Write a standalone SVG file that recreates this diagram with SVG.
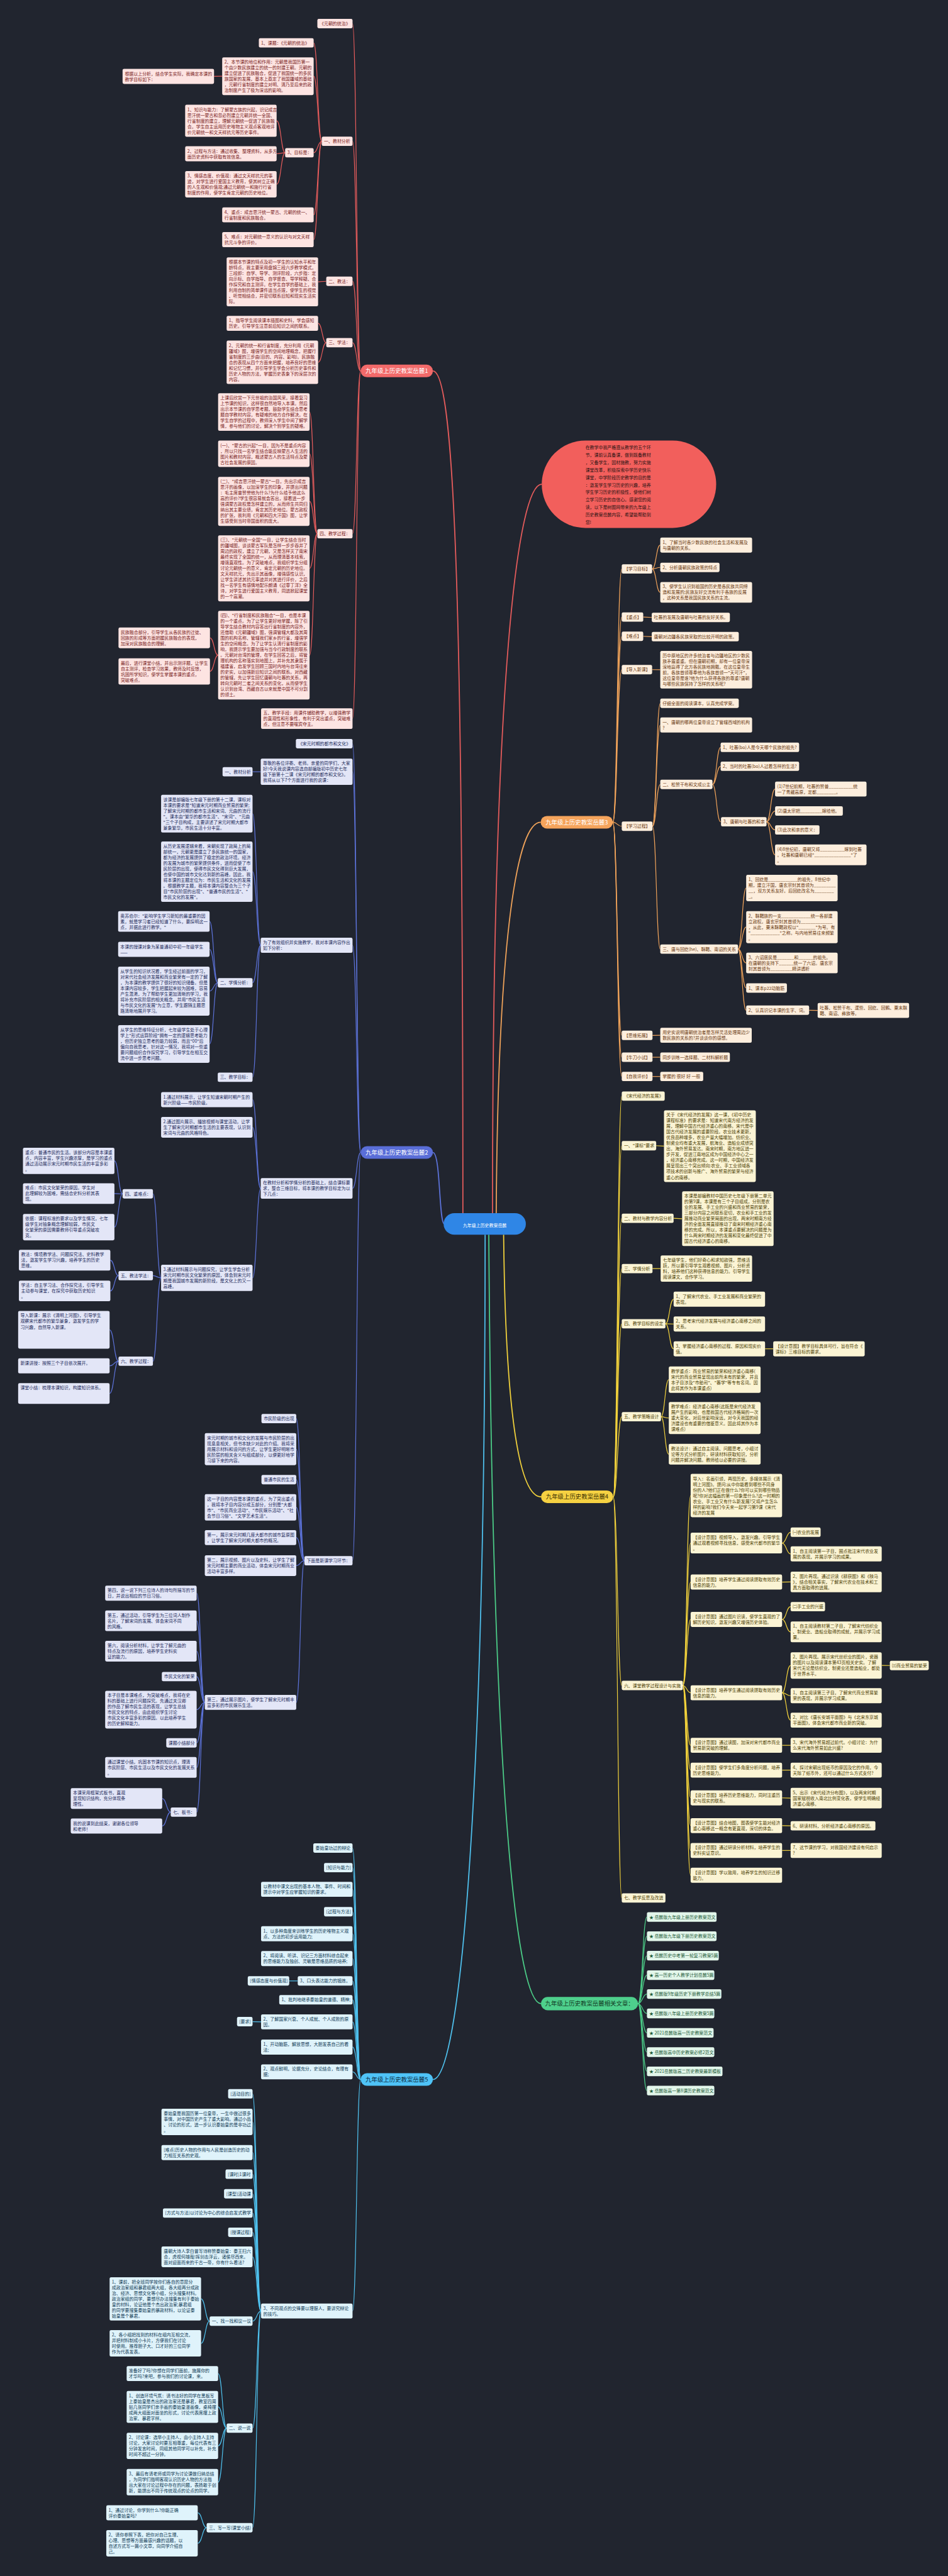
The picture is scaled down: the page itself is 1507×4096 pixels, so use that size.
<svg xmlns="http://www.w3.org/2000/svg" width="1507" height="4096" viewBox="0 0 1507 4096">
<style>
text{font-family:"Noto Sans CJK SC","Noto Sans",sans-serif;font-size:11.8px}
.mt{font-size:16px}
.r1{fill:#fde4e2}.t1{fill:#7a1c1c}
.r2{fill:#e3e6f7}.t2{fill:#232c5c}
.r3{fill:#fdeedd}.t3{fill:#6a3a12}
.r4{fill:#fbf4d4}.t4{fill:#4e4205}
.r5{fill:#dff3fb}.t5{fill:#0f3a55}
.r6{fill:#e2f6ea}.t6{fill:#1b5a37}
path{fill:none;stroke-width:2}
.c1{stroke:#e65c5c}.c2{stroke:#5c72d8}.c3{stroke:#f0a35a}.c4{stroke:#f2d23c}.c5{stroke:#4fc1ee}.c6{stroke:#4cce88}
.m{stroke-width:3}
</style>
<rect width="1507" height="4096" fill="#21252f"/>
<g transform="scale(0.58867)">
<g id="connectors">
<path class="c1 m" d="M1250 3290 C1250 1700 1230 1002 1169 1002"/>
<path class="c2 m" d="M1200 3306 C1185 3306 1190 3113 1169 3113"/>
<path class="c5 m" d="M1310 3335 C1310 4900 1240 5617 1169 5617"/>
<path class="c1 m" d="M1330 3277 C1330 1800 1400 1308 1463 1308"/>
<path class="c3 m" d="M1340 3277 C1345 2500 1400 2221 1460 2221"/>
<path class="c4 m" d="M1360 3335 C1365 3800 1400 4043 1461 4043"/>
<path class="c6 m" d="M1320 3335 C1330 4900 1400 5412 1461 5412"/>
<g class="c1">
<path d="M974 1002 C963 1002 963 63.7 952 63.7"/><path d="M974 1002 C963 1002 963 381.7 952 381.7"/><path d="M974 1002 C963 1002 963 759.7 952 759.7"/><path d="M974 1002 C963 1002 963 925.7 952 925.7"/><path d="M974 1002 C963 1002 963 1441.7 952 1441.7"/><path d="M974 1002 C963 1002 963 1941 952 1941"/>
<path d="M869 381.7 C858 381.7 858 115.7 847 115.7"/><path d="M869 381.7 C858 381.7 858 205.9 847 205.9"/><path d="M869 381.7 C858 381.7 858 412.7 847 412.7"/><path d="M869 381.7 C858 381.7 858 580.3 847 580.3"/><path d="M869 381.7 C858 381.7 858 647.3 847 647.3"/>
<path d="M600 205.9 L578 206.3"/>
<path d="M770 412.7 C759 412.7 759 326.3 747 326.3"/><path d="M770 412.7 C759 412.7 759 415.3 747 415.3"/><path d="M770 412.7 C759 412.7 759 497.6 747 497.6"/>
<path d="M881 759.7 L859 761.2"/>
<path d="M881 925.7 C870 925.7 870 873.3 859 873.3"/><path d="M881 925.7 C870 925.7 870 978.6 859 978.6"/>
<path d="M857 1441.7 C846.5 1441.7 846.5 1112.9 836 1112.9"/><path d="M857 1441.7 C846.5 1441.7 846.5 1225.6 836 1225.6"/><path d="M857 1441.7 C846.5 1441.7 846.5 1354.2 836 1354.2"/><path d="M857 1441.7 C846.5 1441.7 846.5 1535.2 836 1535.2"/><path d="M857 1441.7 C846.5 1441.7 846.5 1769.8 836 1769.8"/>
<path d="M589 1769.8 C578 1769.8 578 1723 567 1723"/><path d="M589 1769.8 C578 1769.8 578 1813.6 567 1813.6"/>
</g>
<g class="c2">
<path d="M974 3113 C963 3113 963 2008.7 952 2008.7"/><path d="M974 3113 C963 3113 963 2084.6 952 2084.6"/><path d="M974 3113 C963 3113 963 2553.3 952 2553.3"/><path d="M974 3113 C963 3113 963 3210 952 3210"/><path d="M974 3113 C963 3113 963 4215.7 952 4215.7"/>
<path d="M704 2084.6 L682 2084.6"/>
<path d="M704 2553.3 C693 2553.3 693 2197.9 682 2197.9"/><path d="M704 2553.3 C693 2553.3 693 2354.5 682 2354.5"/><path d="M704 2553.3 C693 2553.3 693 2654.7 682 2654.7"/><path d="M704 2553.3 C693 2553.3 693 2909.7 682 2909.7"/>
<path d="M588 2654.7 C577 2654.7 577 2489 566 2489"/><path d="M588 2654.7 C577 2654.7 577 2564.3 566 2564.3"/><path d="M588 2654.7 C577 2654.7 577 2677.2 566 2677.2"/><path d="M588 2654.7 C577 2654.7 577 2819.9 566 2819.9"/>
<path d="M704 3210 C693 3210 693 2970.3 682 2970.3"/><path d="M704 3210 C693 3210 693 3045 682 3045"/><path d="M704 3210 C693 3210 693 3451.6 682 3451.6"/>
<path d="M435 3451.6 C424 3451.6 424 3224.7 413 3224.7"/><path d="M435 3451.6 C424 3451.6 424 3445.7 413 3445.7"/><path d="M435 3451.6 C424 3451.6 424 3676.7 413 3676.7"/>
<path d="M331 3224.7 C320 3224.7 320 3135.6 309 3135.6"/><path d="M331 3224.7 C320 3224.7 320 3224 309 3224"/><path d="M331 3224.7 C320 3224.7 320 3314.6 309 3314.6"/>
<path d="M320 3445.7 C309 3445.7 309 3404 298 3404"/><path d="M320 3445.7 C309 3445.7 309 3487 298 3487"/>
<path d="M320 3676.7 C308 3676.7 308 3592 296 3592"/><path d="M320 3676.7 C308 3676.7 308 3689.3 296 3689.3"/><path d="M320 3676.7 C308 3676.7 308 3764 296 3764"/>
<path d="M822 4215.7 C811 4215.7 811 3831.7 800 3831.7"/><path d="M822 4215.7 C811 4215.7 811 3914.3 800 3914.3"/><path d="M822 4215.7 C811 4215.7 811 3996.7 800 3996.7"/><path d="M822 4215.7 C811 4215.7 811 4071.6 800 4071.6"/><path d="M822 4215.7 C811 4215.7 811 4153.3 800 4153.3"/><path d="M822 4215.7 C811 4215.7 811 4229 800 4229"/><path d="M822 4215.7 C811 4215.7 811 4598.3 800 4598.3"/>
<path d="M553 4598.3 C542 4598.3 542 4303.3 531 4303.3"/><path d="M553 4598.3 C542 4598.3 542 4378 531 4378"/><path d="M553 4598.3 C542 4598.3 542 4460 531 4460"/><path d="M553 4598.3 C542 4598.3 542 4528.7 531 4528.7"/><path d="M553 4598.3 C542 4598.3 542 4617.9 531 4617.9"/><path d="M553 4598.3 C542 4598.3 542 4707.7 531 4707.7"/><path d="M553 4598.3 C542 4598.3 542 4774 531 4774"/><path d="M553 4598.3 C542 4598.3 542 4894.7 531 4894.7"/>
<path d="M461 4894.7 C449.5 4894.7 449.5 4858 438 4858"/><path d="M461 4894.7 C449.5 4894.7 449.5 4932.3 438 4932.3"/>
</g>
<g class="c5">
<path d="M974 5617 C963 5617 963 4991.7 952 4991.7"/><path d="M974 5617 C963 5617 963 5044.7 952 5044.7"/><path d="M974 5617 C963 5617 963 5103.3 952 5103.3"/><path d="M974 5617 C963 5617 963 5163.7 952 5163.7"/><path d="M974 5617 C963 5617 963 5223.3 952 5223.3"/><path d="M974 5617 C963 5617 963 5290.3 952 5290.3"/><path d="M974 5617 C963 5617 963 5350.7 952 5350.7"/><path d="M974 5617 C963 5617 963 5401.7 952 5401.7"/><path d="M974 5617 C963 5617 963 5461.3 952 5461.3"/><path d="M974 5617 C963 5617 963 5529.3 952 5529.3"/><path d="M974 5617 C963 5617 963 5596.3 952 5596.3"/><path d="M974 5617 C963 5617 963 6242.3 952 6242.3"/>
<path d="M804 5350.7 L781 5350.7"/><path d="M705 5461.3 L682 5460.7"/>
<path d="M705 6242.3 C693.5 6242.3 693.5 5655.7 682 5655.7"/><path d="M705 6242.3 C693.5 6242.3 693.5 5731.6 682 5731.6"/><path d="M705 6242.3 C693.5 6242.3 693.5 5814.3 682 5814.3"/><path d="M705 6242.3 C693.5 6242.3 693.5 5872.7 682 5872.7"/><path d="M705 6242.3 C693.5 6242.3 693.5 5925.7 682 5925.7"/><path d="M705 6242.3 C693.5 6242.3 693.5 5977.7 682 5977.7"/><path d="M705 6242.3 C693.5 6242.3 693.5 6029.7 682 6029.7"/><path d="M705 6242.3 C693.5 6242.3 693.5 6096 682 6096"/><path d="M705 6242.3 C693.5 6242.3 693.5 6269.7 682 6269.7"/><path d="M705 6242.3 C693.5 6242.3 693.5 6558.7 682 6558.7"/><path d="M705 6242.3 C693.5 6242.3 693.5 6827.7 682 6827.7"/>
<path d="M566 6269.7 C554.5 6269.7 554.5 6209.6 543 6209.6"/><path d="M566 6269.7 C554.5 6269.7 554.5 6329.6 543 6329.6"/>
<path d="M612 6558.7 C600.5 6558.7 600.5 6411.3 589 6411.3"/><path d="M612 6558.7 C600.5 6558.7 600.5 6501.3 589 6501.3"/><path d="M612 6558.7 C600.5 6558.7 600.5 6606.6 589 6606.6"/><path d="M612 6558.7 C600.5 6558.7 600.5 6704.6 589 6704.6"/>
<path d="M558 6827.7 C546 6827.7 546 6787.3 534 6787.3"/><path d="M558 6827.7 C546 6827.7 546 6869.6 534 6869.6"/>
</g>
<g class="c3">
<path d="M1655 2221 C1667 2221 1667 1536.7 1679 1536.7"/><path d="M1655 2221 C1667 2221 1667 1666.7 1679 1666.7"/><path d="M1655 2221 C1667 2221 1667 1718.7 1679 1718.7"/><path d="M1655 2221 C1667 2221 1667 1808.7 1679 1808.7"/><path d="M1655 2221 C1667 2221 1667 2231.7 1679 2231.7"/><path d="M1655 2221 C1667 2221 1667 2796.7 1679 2796.7"/><path d="M1655 2221 C1667 2221 1667 2855.7 1679 2855.7"/><path d="M1655 2221 C1667 2221 1667 2907.7 1679 2907.7"/>
<path d="M1761 1536.7 C1772 1536.7 1772 1472.3 1783 1472.3"/><path d="M1761 1536.7 C1772 1536.7 1772 1532.7 1783 1532.7"/><path d="M1761 1536.7 C1772 1536.7 1772 1600 1783 1600"/>
<path d="M1737 1666.7 L1760 1667.7"/><path d="M1737 1718.7 L1760 1719.7"/><path d="M1761 1808.7 L1783 1808.9"/>
<path d="M1762 2231.7 C1772.5 2231.7 1772.5 1899.7 1783 1899.7"/><path d="M1762 2231.7 C1772.5 2231.7 1772.5 1958.3 1783 1958.3"/><path d="M1762 2231.7 C1772.5 2231.7 1772.5 2118.7 1783 2118.7"/><path d="M1762 2231.7 C1772.5 2231.7 1772.5 2563.7 1783 2563.7"/>
<path d="M1924 2118.7 C1935 2118.7 1935 2018.7 1946 2018.7"/><path d="M1924 2118.7 C1935 2118.7 1935 2069.7 1946 2069.7"/><path d="M1924 2118.7 C1935 2118.7 1935 2219.7 1946 2219.7"/>
<path d="M2070 2219.7 C2081.5 2219.7 2081.5 2131.3 2093 2131.3"/><path d="M2070 2219.7 C2081.5 2219.7 2081.5 2190.7 2093 2190.7"/><path d="M2070 2219.7 C2081.5 2219.7 2081.5 2241.7 2093 2241.7"/><path d="M2070 2219.7 C2081.5 2219.7 2081.5 2309 2093 2309"/>
<path d="M1993 2563.7 C2004 2563.7 2004 2398.6 2015 2398.6"/><path d="M1993 2563.7 C2004 2563.7 2004 2504.3 2015 2504.3"/><path d="M1993 2563.7 C2004 2563.7 2004 2601 2015 2601"/><path d="M1993 2563.7 C2004 2563.7 2004 2668.7 2015 2668.7"/><path d="M1993 2563.7 C2004 2563.7 2004 2728.7 2015 2728.7"/>
<path d="M2185 2728.7 L2208 2729.3"/>
<path d="M1762 2796.7 L1783 2796.3"/><path d="M1762 2855.7 L1783 2855.7"/><path d="M1762 2907.7 L1783 2907.7"/>
</g>
<g class="c4">
<path d="M1656 4043 C1667.5 4043 1667.5 2960.7 1679 2960.7"/><path d="M1656 4043 C1667.5 4043 1667.5 3094.7 1679 3094.7"/><path d="M1656 4043 C1667.5 4043 1667.5 3290.7 1679 3290.7"/><path d="M1656 4043 C1667.5 4043 1667.5 3426.7 1679 3426.7"/><path d="M1656 4043 C1667.5 4043 1667.5 3575.7 1679 3575.7"/><path d="M1656 4043 C1667.5 4043 1667.5 3826.7 1679 3826.7"/><path d="M1656 4043 C1667.5 4043 1667.5 4552.7 1679 4552.7"/><path d="M1656 4043 C1667.5 4043 1667.5 5126.7 1679 5126.7"/>
<path d="M1772 3094.7 L1793 3095.8"/><path d="M1819 3290.7 L1842 3291.9"/><path d="M1762 3426.7 L1784 3426.6"/>
<path d="M1797 3575.7 C1808 3575.7 1808 3509.3 1819 3509.3"/><path d="M1797 3575.7 L1819 3576.3"/><path d="M1797 3575.7 C1808 3575.7 1808 3643.3 1819 3643.3"/><path d="M2066 3643.3 L2088 3643.3"/>
<path d="M1785 3826.7 C1795.5 3826.7 1795.5 3726.6 1806 3726.6"/><path d="M1785 3826.7 C1795.5 3826.7 1795.5 3830.3 1806 3830.3"/><path d="M1785 3826.7 C1795.5 3826.7 1795.5 3928 1806 3928"/>
<path d="M1844 4552.7 C1854.5 4552.7 1854.5 4039.6 1865 4039.6"/><path d="M1844 4552.7 C1854.5 4552.7 1854.5 4168 1865 4168"/><path d="M1844 4552.7 C1854.5 4552.7 1854.5 4273.3 1865 4273.3"/><path d="M1844 4552.7 C1854.5 4552.7 1854.5 4374.3 1865 4374.3"/><path d="M1844 4552.7 C1854.5 4552.7 1854.5 4572.3 1865 4572.3"/><path d="M1844 4552.7 C1854.5 4552.7 1854.5 4714.3 1865 4714.3"/><path d="M1844 4552.7 C1854.5 4552.7 1854.5 4781.3 1865 4781.3"/><path d="M1844 4552.7 C1854.5 4552.7 1854.5 4856.3 1865 4856.3"/><path d="M1844 4552.7 C1854.5 4552.7 1854.5 4931.3 1865 4931.3"/><path d="M1844 4552.7 C1854.5 4552.7 1854.5 4998.3 1865 4998.3"/><path d="M1844 4552.7 C1854.5 4552.7 1854.5 5065.3 1865 5065.3"/>
<path d="M2112 4168 C2123.5 4168 2123.5 4138.7 2135 4138.7"/><path d="M2112 4168 C2123.5 4168 2123.5 4197.3 2135 4197.3"/>
<path d="M2112 4273.3 L2135 4273"/>
<path d="M2112 4374.3 C2123.5 4374.3 2123.5 4339.7 2135 4339.7"/><path d="M2112 4374.3 C2123.5 4374.3 2123.5 4408 2135 4408"/>
<path d="M2112 4572.3 C2123.5 4572.3 2123.5 4498.6 2135 4498.6"/><path d="M2112 4572.3 C2123.5 4572.3 2123.5 4580.3 2135 4580.3"/><path d="M2112 4572.3 C2123.5 4572.3 2123.5 4646.3 2135 4646.3"/>
<path d="M2381 4498.6 L2403 4498.7"/>
<path d="M2112 4714.3 L2135 4714.3"/><path d="M2112 4781.3 L2135 4781.3"/><path d="M2112 4856.3 L2135 4857"/><path d="M2112 4931.3 L2135 4931.7"/><path d="M2112 4998.3 L2135 4998.3"/>
</g>
<g class="c6">
<path d="M1723 5412 C1735 5412 1735 5178 1747 5178"/><path d="M1723 5412 C1735 5412 1735 5230 1747 5230"/><path d="M1723 5412 C1735 5412 1735 5282.7 1747 5282.7"/><path d="M1723 5412 C1735 5412 1735 5335 1747 5335"/><path d="M1723 5412 C1735 5412 1735 5386 1747 5386"/><path d="M1723 5412 C1735 5412 1735 5438.5 1747 5438.5"/><path d="M1723 5412 C1735 5412 1735 5491 1747 5491"/><path d="M1723 5412 C1735 5412 1735 5543 1747 5543"/><path d="M1723 5412 C1735 5412 1735 5595 1747 5595"/><path d="M1723 5412 C1735 5412 1735 5647 1747 5647"/>
</g>
</g>

<g id="center"><rect x="1198" y="3277" width="222" height="58" rx="29" fill="#2f86e6"/><text x="1309" y="3314" text-anchor="middle" font-size="22" fill="#fff">九年级上历史教案岳麓</text></g>

<g id="intro"><rect x="1463" y="1190" width="471" height="236" rx="118" fill="#f25f5c"/><text x="1581" y="1213.5" font-size="15" fill="#2a1414"><tspan x="1581">在教学中我严格遵从教学的五个环</tspan><tspan x="1581" dy="20.1">节，课前认真备课，做到既备教材</tspan><tspan x="1581" dy="20.1">，又备学生，因材施教，努力实施</tspan><tspan x="1581" dy="20.1">课堂改革，积极探索中学历史快乐</tspan><tspan x="1581" dy="20.1">课堂，中学阶段历史教学的目的是</tspan><tspan x="1581" dy="20.1">：激发学生学习历史的兴趣，培养</tspan><tspan x="1581" dy="20.1">学生学习历史的积极性，使他们树</tspan><tspan x="1581" dy="20.1">立学习历史的自信心。感谢您的阅</tspan><tspan x="1581" dy="20.1">读，以下是树图网带来的九年级上</tspan><tspan x="1581" dy="20.1">历史教案岳麓内容，希望能帮助到</tspan><tspan x="1581" dy="20.1">您!</tspan></text></g>

<!-- Branch 1 -->
<g id="b1"><rect x="974" y="985" width="195" height="34" rx="17" fill="#f26a6a"/><text class="mt" x="1071.5" y="1007.5" text-anchor="middle" fill="#fff">九年级上历史教案岳麓1</text></g>
<g id="a1"><rect class="r1" x="857" y="51" width="95" height="25.3" rx="4"/><text class="t1" x="863" y="68">《元朝的统治》</text></g>
<g id="a2"><rect class="r1" x="869" y="369" width="83" height="25.3" rx="4"/><text class="t1" x="875" y="386">一、教材分析</text></g>
<g id="a3"><rect class="r1" x="881" y="747" width="71" height="25.3" rx="4"/><text class="t1" x="887" y="764">二、教法：</text></g>
<g id="a4"><rect class="r1" x="881" y="913" width="71" height="25.3" rx="4"/><text class="t1" x="887" y="930">三、学法：</text></g>
<g id="a5"><rect class="r1" x="857" y="1429" width="95" height="25.3" rx="4"/><text class="t1" x="863" y="1446">四、教学过程：</text></g>
<g id="a6"><rect class="r1" x="705" y="1913" width="247" height="55.9" rx="4"/><text class="t1" x="711" y="1930"><tspan x="711">五、教学手段：用课件辅助教学，以增强教学</tspan><tspan x="711" dy="15.3">的直观性和形象性，有利于突出重点，突破难</tspan><tspan x="711" dy="15.3">点，但注意不要喧宾夺主。</tspan></text></g>
<g id="b1n"><rect class="r1" x="699" y="103" width="148" height="25.3" rx="4"/><text class="t1" x="705" y="120">1、课题：《元朝的统治》</text></g>
<g id="b2n"><rect class="r1" x="600" y="155" width="247" height="101.8" rx="4"/><text class="t1" x="606" y="172"><tspan x="606">2、本节课的地位和作用：元朝是我国历第一</tspan><tspan x="606" dy="15.3">个由少数民族建立的统一的封建王朝。元朝的</tspan><tspan x="606" dy="15.3">建立促进了民族融合，促进了我国统一的多民</tspan><tspan x="606" dy="15.3">族国家的发展，基本上奠定了我国疆域的基础</tspan><tspan x="606" dy="15.3">，元朝行省制度的建立对明、清乃至后来的政</tspan><tspan x="606" dy="15.3">治制度产生了极为深远的影响。</tspan></text></g>
<g id="c1n"><rect class="r1" x="331" y="186" width="247" height="40.6" rx="4"/><text class="t1" x="337" y="203"><tspan x="337">根据以上分析，结合学生实际，我确定本课的</tspan><tspan x="337" dy="15.3">教学目标如下：</tspan></text></g>
<g id="b3n"><rect class="r1" x="770" y="400" width="77" height="25.3" rx="4"/><text class="t1" x="776" y="417">3、目标是：</text></g>
<g id="c2n"><rect class="r1" x="500" y="283" width="247" height="86.5" rx="4"/><text class="t1" x="506" y="300"><tspan x="506">1、知识与能力：了解蒙古族的兴起，识记成吉</tspan><tspan x="506" dy="15.3">思汗统一蒙古和忽必烈建立元朝并统一全国、</tspan><tspan x="506" dy="15.3">行省制度的建立，理解元朝统一促进了民族融</tspan><tspan x="506" dy="15.3">合。学生自主运用历史唯物主义观点客观地评</tspan><tspan x="506" dy="15.3">价元朝统一和文天祥抗元等历史事件。</tspan></text></g>
<g id="c3n"><rect class="r1" x="500" y="395" width="247" height="40.6" rx="4"/><text class="t1" x="506" y="412"><tspan x="506">2、过程与方法：通过收集、整理资料，从多方</tspan><tspan x="506" dy="15.3">面历史资料中获取有效信息。</tspan></text></g>
<g id="c4n"><rect class="r1" x="500" y="462" width="247" height="71.2" rx="4"/><text class="t1" x="506" y="479"><tspan x="506">3、情感态度、价值观：通过文天祥抗元的事</tspan><tspan x="506" dy="15.3">迹，对学生进行爱国主义教育，使其树立正确</tspan><tspan x="506" dy="15.3">的人生观和价值观;通过元朝统一和施行行省</tspan><tspan x="506" dy="15.3">制度的作用，使学生肯定元朝的历史地位。</tspan></text></g>
<g id="b4n"><rect class="r1" x="600" y="560" width="247" height="40.6" rx="4"/><text class="t1" x="606" y="577"><tspan x="606">4、重点：成吉思汗统一蒙古、元朝的统一、</tspan><tspan x="606" dy="15.3">行省制度和民族融合。</tspan></text></g>
<g id="b5n"><rect class="r1" x="600" y="627" width="247" height="40.6" rx="4"/><text class="t1" x="606" y="644"><tspan x="606">5、难点：对元朝统一意义的认识与对文天祥</tspan><tspan x="606" dy="15.3">抗元斗争的评价。</tspan></text></g>
<g id="e1n"><rect class="r1" x="612" y="695" width="247" height="132.4" rx="4"/><text class="t1" x="618" y="712"><tspan x="618">根据本节课的特点及初一学生的认知水平和年</tspan><tspan x="618" dy="15.3">龄特点，我主要采用盘锦三段六步教学模式，</tspan><tspan x="618" dy="15.3">三段即：自学、导学、测评阶段，六步指：定</tspan><tspan x="618" dy="15.3">向示标、自学指导、自学督查、导学释疑、合</tspan><tspan x="618" dy="15.3">作探究和自主测评。在学生自学的基础上，我</tspan><tspan x="618" dy="15.3">利用自制的简单课件适当点拨，使学生的视觉</tspan><tspan x="618" dy="15.3">、听觉相结合，并密切联系旧知和现实生活实</tspan><tspan x="618" dy="15.3">际。</tspan></text></g>
<g id="e2n"><rect class="r1" x="612" y="853" width="247" height="40.6" rx="4"/><text class="t1" x="618" y="870"><tspan x="618">1、指导学生阅读课本插图和史料，学会感知</tspan><tspan x="618" dy="15.3">历史。引导学生注意前后知识之间的联系。</tspan></text></g>
<g id="e3n"><rect class="r1" x="612" y="920" width="247" height="117.1" rx="4"/><text class="t1" x="618" y="937"><tspan x="618">2、元朝的统一和行省制度，充分利用《元朝</tspan><tspan x="618" dy="15.3">疆域》图，增强学生的空间地理概念，把握行</tspan><tspan x="618" dy="15.3">省制度的三步曲(目的、内容、影响)。民族融</tspan><tspan x="618" dy="15.3">合的表现从四个方面来把握，培养良好的思维</tspan><tspan x="618" dy="15.3">和记忆习惯，并引导学生学会分析历史事件和</tspan><tspan x="618" dy="15.3">历史人物的方法，掌握历史表象下的深层次的</tspan><tspan x="618" dy="15.3">内容。</tspan></text></g>
<g id="d1n"><rect class="r1" x="589" y="1062" width="247" height="101.8" rx="4"/><text class="t1" x="595" y="1079"><tspan x="595">上课后欣赏一下元世祖的治国风采，接着复习</tspan><tspan x="595" dy="15.3">上节课的知识，这样很自然地导入本课。然后</tspan><tspan x="595" dy="15.3">出示本节课的自学思考题，鼓励学生结合思考</tspan><tspan x="595" dy="15.3">题自学教材内容，有疑难的地方合作解决。在</tspan><tspan x="595" dy="15.3">学生自学的过程中，教师深入学生中间了解学</tspan><tspan x="595" dy="15.3">情，参与他们的讨论，解决个别学生的疑难。</tspan></text></g>
<g id="d2n"><rect class="r1" x="589" y="1190" width="247" height="71.2" rx="4"/><text class="t1" x="595" y="1207"><tspan x="595">(一)、"蒙古的兴起"一目，因为不是重点内容</tspan><tspan x="595" dy="15.3">，所以只找一名学生结合能反映蒙古人生活的</tspan><tspan x="595" dy="15.3">图片和教材内容，概述蒙古人的生活特点及蒙</tspan><tspan x="595" dy="15.3">古社会发展的原因。</tspan></text></g>
<g id="d3n"><rect class="r1" x="589" y="1288" width="247" height="132.4" rx="4"/><text class="t1" x="595" y="1305"><tspan x="595">(二)、"成吉思汗统一蒙古"一目，先出示成吉</tspan><tspan x="595" dy="15.3">思汗的画像，以加深学生的印象，并提出问题</tspan><tspan x="595" dy="15.3">：毛主席曾赞誉他为什么?为什么给予他这么</tspan><tspan x="595" dy="15.3">高的评价?学生很容易就会答出，接着进一步</tspan><tspan x="595" dy="15.3">强调蒙古政权是怎样建立的，从而师生共同归</tspan><tspan x="595" dy="15.3">纳出其主要业绩，肯定其历史地位。蒙古政权</tspan><tspan x="595" dy="15.3">的扩张，我利用《元朝和四大汗国》图，让学</tspan><tspan x="595" dy="15.3">生感受到当时帝国面积的庞大。</tspan></text></g>
<g id="d4n"><rect class="r1" x="589" y="1446" width="247" height="178.3" rx="4"/><text class="t1" x="595" y="1463"><tspan x="595">(三)、"元朝统一全国"一目，让学生结合当时</tspan><tspan x="595" dy="15.3">的疆域图，谈谈蒙古军队是怎样一步步吞并了</tspan><tspan x="595" dy="15.3">周边的政权，建立了元朝，又是怎样灭了南宋</tspan><tspan x="595" dy="15.3">最终实现了全国的统一，从而理清基本线索，</tspan><tspan x="595" dy="15.3">增强直观性。为了突破难点，我组织学生分组</tspan><tspan x="595" dy="15.3">讨论元朝统一的意义，肯定元朝的历史地位。</tspan><tspan x="595" dy="15.3">文天祥抗元，先出示其画像，增强感性认识，</tspan><tspan x="595" dy="15.3">让学生讲述其抗元事迹并对其进行评价，之后</tspan><tspan x="595" dy="15.3">找一名学生有感情地配乐朗诵《过零丁洋》全</tspan><tspan x="595" dy="15.3">诗，对学生进行爱国主义教育，同进掀起课堂</tspan><tspan x="595" dy="15.3">的一个高潮。</tspan></text></g>
<g id="d5n"><rect class="r1" x="589" y="1650" width="247" height="239.5" rx="4"/><text class="t1" x="595" y="1667"><tspan x="595">(四)、"行省制度和民族融合"一目，也是本课</tspan><tspan x="595" dy="15.3">的一个重点。为了让学生更好地掌握，除了引</tspan><tspan x="595" dy="15.3">导学生结合教材内容答出行省制度的内容外，</tspan><tspan x="595" dy="15.3">还借助《元朝疆域》图，强调管辖大都及其周</tspan><tspan x="595" dy="15.3">围的机构名称、管辖我们家乡的行省，增强学</tspan><tspan x="595" dy="15.3">生的空间概念。为了让学生认清行省制度的影</tspan><tspan x="595" dy="15.3">响，我提示学生要加强与当今行政制度的联系</tspan><tspan x="595" dy="15.3">。元朝对台湾的管理，在学生回答之后，将管</tspan><tspan x="595" dy="15.3">理机构的名称落实到地图上，并补充其隶属于</tspan><tspan x="595" dy="15.3">福建省，启发学生回顾三国时内地与台湾往来</tspan><tspan x="595" dy="15.3">的史实，以加强新旧知识之间的联系。对西藏</tspan><tspan x="595" dy="15.3">的管辖，先让学生回忆唐朝与吐蕃的关系，再</tspan><tspan x="595" dy="15.3">转向元朝时二者之间关系的变化，从而使学生</tspan><tspan x="595" dy="15.3">认识到台湾、西藏自古以来就是中国不可分割</tspan><tspan x="595" dy="15.3">的领土。</tspan></text></g>
<g id="d6n"><rect class="r1" x="320" y="1695" width="247" height="55.9" rx="4"/><text class="t1" x="326" y="1712"><tspan x="326">民族融合部分，引导学生从各民族的迁徙、</tspan><tspan x="326" dy="15.3">回族的形成等方面把握民族融合的表现，</tspan><tspan x="326" dy="15.3">加深对民族融合的理解。</tspan></text></g>
<g id="d7n"><rect class="r1" x="320" y="1778" width="247" height="71.2" rx="4"/><text class="t1" x="326" y="1795"><tspan x="326">最后，进行课堂小结，并出示测评题，让学生</tspan><tspan x="326" dy="15.3">自主测评，检查学习效果，教师及时反馈，</tspan><tspan x="326" dy="15.3">巩固所学知识，使学生掌握本课的重点，</tspan><tspan x="326" dy="15.3">突破难点。</tspan></text></g>

<!-- Branch 2 -->
<g id="b2"><rect x="974" y="3096" width="195" height="34" rx="17" fill="#5a6ed8"/><text class="mt" x="1071.5" y="3118.5" text-anchor="middle" fill="#fff">九年级上历史教案岳麓2</text></g>
<g id="f1"><rect class="r2" x="799" y="1996" width="153" height="25.3" rx="4"/><text class="t2" x="805" y="2013">《宋元时期的都市和文化》</text></g>
<g id="f2"><rect class="r2" x="704" y="2049" width="248" height="71.2" rx="4"/><text class="t2" x="710" y="2066"><tspan x="710">尊敬的各位评委、老师。亲爱的同学们，大家</tspan><tspan x="710" dy="15.3">好!今天我说课内容选自部编版初中历史七年</tspan><tspan x="710" dy="15.3">级下册第十二课《宋元时期的都市和文化》。</tspan><tspan x="710" dy="15.3">我将从以下7个方面进行我的说课：</tspan></text></g>
<g id="g1"><rect class="r2" x="601" y="2072" width="81" height="25.3" rx="4"/><text class="t2" x="607" y="2089">一、教材分析</text></g>
<g id="f3"><rect class="r2" x="704" y="2533" width="248" height="40.6" rx="4"/><text class="t2" x="710" y="2550"><tspan x="710">为了有效组织并实施教学，我对本课内容作出</tspan><tspan x="710" dy="15.3">如下分析：</tspan></text></g>
<g id="g2"><rect class="r2" x="435" y="2147" width="247" height="101.8" rx="4"/><text class="t2" x="441" y="2164"><tspan x="441">该课是部编版七年级下册的第十二课，课标对</tspan><tspan x="441" dy="15.3">本课的要求是"知道宋元时期商业贸易的繁荣;</tspan><tspan x="441" dy="15.3">了解宋元时期的都市生活和宋词、元曲的流行</tspan><tspan x="441" dy="15.3">"。课本由"繁华的都市生活"、"宋词"、"元曲</tspan><tspan x="441" dy="15.3">"三个子目构成，主要讲述了宋元时期大都市</tspan><tspan x="441" dy="15.3">景象繁华，市民生活十分丰富。</tspan></text></g>
<g id="g3"><rect class="r2" x="435" y="2273" width="247" height="163" rx="4"/><text class="t2" x="441" y="2290"><tspan x="441">从历史发展逻辑来看，宋朝实现了政局上的局</tspan><tspan x="441" dy="15.3">部统一，元朝更是建立了多民族统一的国家，</tspan><tspan x="441" dy="15.3">都为经济的发展提供了稳定的政治环境。经济</tspan><tspan x="441" dy="15.3">的发展为城市的繁荣提供条件，进而促使了市</tspan><tspan x="441" dy="15.3">民阶层的出现，使得市民文化得到巨大发展，</tspan><tspan x="441" dy="15.3">也使中国的城市文化达到新的高峰。因此，我</tspan><tspan x="441" dy="15.3">将本课的主题定位为：市民生活和文化的发展</tspan><tspan x="441" dy="15.3">。根据教学主题，我将本课内容整合为三个子</tspan><tspan x="441" dy="15.3">目"市民阶层的出现"、"普通市民的生活"、"</tspan><tspan x="441" dy="15.3">市民文化的发展"。</tspan></text></g>
<g id="g4"><rect class="r2" x="588" y="2642" width="94" height="25.3" rx="4"/><text class="t2" x="594" y="2659">二、学情分析：</text></g>
<g id="g5"><rect class="r2" x="588" y="2897" width="94" height="25.3" rx="4"/><text class="t2" x="594" y="2914">三、教学目标：</text></g>
<g id="h1"><rect class="r2" x="319" y="2461" width="247" height="55.9" rx="4"/><text class="t2" x="325" y="2478"><tspan x="325">奥苏伯尔："影响学生学习新知的最重要的因</tspan><tspan x="325" dy="15.3">素，就是学习者已经知道了什么，要探明这一</tspan><tspan x="325" dy="15.3">点，并据此进行教学。"</tspan></text></g>
<g id="h2"><rect class="r2" x="319" y="2544" width="247" height="40.6" rx="4"/><text class="t2" x="325" y="2561"><tspan x="325">本课的授课对象为某普通初中初一年级学生</tspan><tspan x="325" dy="15.3">——</tspan></text></g>
<g id="h3"><rect class="r2" x="319" y="2611" width="247" height="132.4" rx="4"/><text class="t2" x="325" y="2628"><tspan x="325">从学生的知识状况看，学生经过前面的学习，</tspan><tspan x="325" dy="15.3">对宋代社会经济发展和商业繁荣有一定的了解</tspan><tspan x="325" dy="15.3">，为本课的教学提供了很好的知识储备。但是</tspan><tspan x="325" dy="15.3">本课内容较多，学生把握起来较为困难，容易</tspan><tspan x="325" dy="15.3">产生混淆，为了帮助学生更加清晰的学习，我</tspan><tspan x="325" dy="15.3">将补充市民阶层的相关概念，并用"市民生活</tspan><tspan x="325" dy="15.3">与市民文化的发展"为立意，学生跟随主题思</tspan><tspan x="325" dy="15.3">路清晰地展开学习。</tspan></text></g>
<g id="h4"><rect class="r2" x="319" y="2769" width="247" height="101.8" rx="4"/><text class="t2" x="325" y="2786"><tspan x="325">从学生的思维特征分析，七年级学生处于心理</tspan><tspan x="325" dy="15.3">学上"形式运算阶段"拥有一定的逻辑思考能力</tspan><tspan x="325" dy="15.3">，但历史独立思考的能力较弱，而且"00"后</tspan><tspan x="325" dy="15.3">偏向自我思考。针对这一情况，我将对一些重</tspan><tspan x="325" dy="15.3">要问题组织合作探究学习，引导学生在相互交</tspan><tspan x="325" dy="15.3">流中进一步思考问题。</tspan></text></g>
<g id="f4"><rect class="r2" x="704" y="3182" width="248" height="55.9" rx="4"/><text class="t2" x="710" y="3199"><tspan x="710">在教材分析和学情分析的基础上，结合课标要</tspan><tspan x="710" dy="15.3">求，整合三维目标，将本课的教学目标定为以</tspan><tspan x="710" dy="15.3">下几点：</tspan></text></g>
<g id="g6"><rect class="r2" x="435" y="2950" width="247" height="40.6" rx="4"/><text class="t2" x="441" y="2967"><tspan x="441">1.通过材料展示，让学生知道宋朝时期产生的</tspan><tspan x="441" dy="15.3">新兴阶级——市民阶级。</tspan></text></g>
<g id="g7"><rect class="r2" x="435" y="3017" width="247" height="55.9" rx="4"/><text class="t2" x="441" y="3034"><tspan x="441">2.通过图片展示、播放视频与课堂活动，让学</tspan><tspan x="441" dy="15.3">生了解宋元时期都市生活的主要表现，认识到</tspan><tspan x="441" dy="15.3">宋词与元曲的风格特色。</tspan></text></g>
<g id="g8"><rect class="r2" x="435" y="3416" width="247" height="71.2" rx="4"/><text class="t2" x="441" y="3433"><tspan x="441">3.通过材料展示与问题探究，让学生学会分析</tspan><tspan x="441" dy="15.3">宋元时期市民文化繁荣的原因，体会到宋元时</tspan><tspan x="441" dy="15.3">期是我国城市发展的新阶段，是文化上的又一</tspan><tspan x="441" dy="15.3">高峰。</tspan></text></g>
<g id="h5"><rect class="r2" x="331" y="3212" width="82" height="25.3" rx="4"/><text class="t2" x="337" y="3229">四、重难点：</text></g>
<g id="h6"><rect class="r2" x="320" y="3433" width="93" height="25.3" rx="4"/><text class="t2" x="326" y="3450">五、教法学法：</text></g>
<g id="h7"><rect class="r2" x="320" y="3664" width="93" height="25.3" rx="4"/><text class="t2" x="326" y="3681">六、教学过程：</text></g>
<g id="u1"><rect class="r2" x="62" y="3100" width="247" height="71.2" rx="4"/><text class="t2" x="68" y="3117"><tspan x="68">重点：普通市民的生活。该部分内容是本课重</tspan><tspan x="68" dy="15.3">点，内容丰富，学生兴趣浓厚，是学习的重点</tspan><tspan x="68" dy="15.3">通过活动展示宋元时期市民生活的丰富多彩</tspan><tspan x="68" dy="15.3">。</tspan></text></g>
<g id="u2"><rect class="r2" x="62" y="3196" width="247" height="55.9" rx="4"/><text class="t2" x="68" y="3213"><tspan x="68">难点：市民文化繁荣的原因。学生对</tspan><tspan x="68" dy="15.3">此理解较为困难，需结合史料分析其表</tspan><tspan x="68" dy="15.3">现。</tspan></text></g>
<g id="u3"><rect class="r2" x="62" y="3279" width="247" height="71.2" rx="4"/><text class="t2" x="68" y="3296"><tspan x="68">依据：课程标准的要求以及学生情况，七年</tspan><tspan x="68" dy="15.3">级学生对抽象概念理解较弱，市民文</tspan><tspan x="68" dy="15.3">化繁荣的原因需要教师引导重点突破攻</tspan><tspan x="68" dy="15.3">克。</tspan></text></g>
<g id="u4"><rect class="r2" x="51" y="3376" width="247" height="55.9" rx="4"/><text class="t2" x="57" y="3393"><tspan x="57">教法：情境教学法、问题探究法、史料教学</tspan><tspan x="57" dy="15.3">法，激发学生学习兴趣，培养学生的历史</tspan><tspan x="57" dy="15.3">思维。</tspan></text></g>
<g id="u5"><rect class="r2" x="51" y="3459" width="247" height="55.9" rx="4"/><text class="t2" x="57" y="3476"><tspan x="57">学法：自主学习法、合作探究法，引导学生</tspan><tspan x="57" dy="15.3">主动参与课堂，在探究中获取历史知识</tspan><tspan x="57" dy="15.3">。</tspan></text></g>
<g id="u6"><rect class="r2" x="49" y="3541" width="247" height="101.8" rx="4"/><text class="t2" x="55" y="3558"><tspan x="55">导入新课：展示《清明上河图》，引导学生</tspan><tspan x="55" dy="15.3">观察宋代都市的繁华景象，激发学生的学</tspan><tspan x="55" dy="15.3">习兴趣，自然导入新课。</tspan></text></g>
<g id="u7"><rect class="r2" x="49" y="3669" width="247" height="40.6" rx="4"/><text class="t2" x="55" y="3686"><tspan x="55">新课讲授：按照三个子目依次展开。</tspan></text></g>
<g id="u8"><rect class="r2" x="49" y="3736" width="247" height="55.9" rx="4"/><text class="t2" x="55" y="3753"><tspan x="55">课堂小结：梳理本课知识，构建知识体系。</tspan></text></g>
<g id="f5"><rect class="r2" x="822" y="4203" width="130" height="25.3" rx="4"/><text class="t2" x="828" y="4220">下面是新课学习环节：</text></g>
<g id="i1"><rect class="r2" x="706" y="3819" width="94" height="25.3" rx="4"/><text class="t2" x="712" y="3836">市民阶级的出现</text></g>
<g id="i2"><rect class="r2" x="553" y="3871" width="247" height="86.5" rx="4"/><text class="t2" x="559" y="3888"><tspan x="559">宋元时期的城市和文化的发展与市民阶层的出</tspan><tspan x="559" dy="15.3">现息息相关，但书本缺少对此的介绍。我将采</tspan><tspan x="559" dy="15.3">用展示材料和设问的方式，让学生更好明晰市</tspan><tspan x="559" dy="15.3">民阶层的相关含义与组成部分，以便更好地学</tspan><tspan x="559" dy="15.3">习接下来的内容。</tspan></text></g>
<g id="i3"><rect class="r2" x="706" y="3984" width="94" height="25.3" rx="4"/><text class="t2" x="712" y="4001">普通市民的生活</text></g>
<g id="i4"><rect class="r2" x="553" y="4036" width="247" height="71.2" rx="4"/><text class="t2" x="559" y="4053"><tspan x="559">这一子目的内容是本课的重点，为了突出重点</tspan><tspan x="559" dy="15.3">，我将本子目内容分成五部分，分别是"大都</tspan><tspan x="559" dy="15.3">市"、"市民商业活动"、"市民娱乐活动"、"社</tspan><tspan x="559" dy="15.3">会节日习俗"、"文学艺术生活"。</tspan></text></g>
<g id="i5"><rect class="r2" x="553" y="4133" width="247" height="40.6" rx="4"/><text class="t2" x="559" y="4150"><tspan x="559">第一，展示宋元时期几座大都市的城市复原图</tspan><tspan x="559" dy="15.3">，让学生了解宋元时期大都市的概况。</tspan></text></g>
<g id="i6"><rect class="r2" x="553" y="4201" width="247" height="55.9" rx="4"/><text class="t2" x="559" y="4218"><tspan x="559">第二，展示视频、图片以及史料，让学生了解</tspan><tspan x="559" dy="15.3">宋元时期主要的商业活动，体会宋元时期商业</tspan><tspan x="559" dy="15.3">活动丰富多样。</tspan></text></g>
<g id="i7"><rect class="r2" x="553" y="4578" width="247" height="40.6" rx="4"/><text class="t2" x="559" y="4595"><tspan x="559">第三，通过展示图片，使学生了解宋元时期丰</tspan><tspan x="559" dy="15.3">富多彩的市民娱乐生活。</tspan></text></g>
<g id="j1"><rect class="r2" x="284" y="4283" width="247" height="40.6" rx="4"/><text class="t2" x="290" y="4300"><tspan x="290">第四，说一说下列三位诗人的诗句所描写的节</tspan><tspan x="290" dy="15.3">日，并说出相应的节日习俗。</tspan></text></g>
<g id="j2"><rect class="r2" x="284" y="4350" width="247" height="55.9" rx="4"/><text class="t2" x="290" y="4367"><tspan x="290">第五，通过活动，引导学生为三位词人制作</tspan><tspan x="290" dy="15.3">名片，了解宋词的发展、体会宋词不同</tspan><tspan x="290" dy="15.3">的风格。</tspan></text></g>
<g id="j3"><rect class="r2" x="284" y="4432" width="247" height="55.9" rx="4"/><text class="t2" x="290" y="4449"><tspan x="290">第六，阅读分析材料，让学生了解元曲的</tspan><tspan x="290" dy="15.3">特点及流行的原因，培养学生史料实</tspan><tspan x="290" dy="15.3">证的能力。</tspan></text></g>
<g id="j4"><rect class="r2" x="437" y="4516" width="94" height="25.3" rx="4"/><text class="t2" x="443" y="4533">市民文化的繁荣</text></g>
<g id="j5"><rect class="r2" x="284" y="4567" width="247" height="101.8" rx="4"/><text class="t2" x="290" y="4584"><tspan x="290">本子目是本课难点，为突破难点，我将在史</tspan><tspan x="290" dy="15.3">料的基础上进行问题探究。先通过关汉卿</tspan><tspan x="290" dy="15.3">的作品了解市民生活的表现，让学生总结</tspan><tspan x="290" dy="15.3">市民文化的特点，由此组织学生讨论</tspan><tspan x="290" dy="15.3">市民文化丰富多彩的原因。以此培养学生</tspan><tspan x="290" dy="15.3">的历史解释能力。</tspan></text></g>
<g id="j6"><rect class="r2" x="449" y="4695" width="82" height="25.3" rx="4"/><text class="t2" x="455" y="4712">课题小结部分</text></g>
<g id="j7"><rect class="r2" x="284" y="4746" width="247" height="55.9" rx="4"/><text class="t2" x="290" y="4763"><tspan x="290">通过课堂小结，巩固本节课的知识点，理清</tspan><tspan x="290" dy="15.3">市民阶层、市民生活以及市民文化的发展关系</tspan><tspan x="290" dy="15.3">。</tspan></text></g>
<g id="j8"><rect class="r2" x="461" y="4882" width="70" height="25.3" rx="4"/><text class="t2" x="467" y="4899">七、板书：</text></g>
<g id="j9"><rect class="r2" x="191" y="4830" width="247" height="55.9" rx="4"/><text class="t2" x="197" y="4847"><tspan x="197">本课采用框架式板书，直观</tspan><tspan x="197" dy="15.3">呈现知识结构，充分体现条</tspan><tspan x="197" dy="15.3">理性。</tspan></text></g>
<g id="j10"><rect class="r2" x="191" y="4912" width="247" height="40.6" rx="4"/><text class="t2" x="197" y="4929"><tspan x="197">我的说课到此结束，谢谢各位领导</tspan><tspan x="197" dy="15.3">和老师！</tspan></text></g>

<!-- Branch 5 -->
<g id="b5"><rect x="974" y="5600" width="195" height="34" rx="17" fill="#4fc3f7"/><text class="mt" x="1071.5" y="5622.5" text-anchor="middle" fill="#0c2d44">九年级上历史教案岳麓5</text></g>
<g id="k1"><rect class="r5" x="846" y="4979" width="106" height="25.3" rx="4"/><text class="t5" x="852" y="4996">秦始皇功过的辩论</text></g>
<g id="k2"><rect class="r5" x="875" y="5032" width="77" height="25.3" rx="4"/><text class="t5" x="881" y="5049">[知识与能力]</text></g>
<g id="k3"><rect class="r5" x="705" y="5083" width="247" height="40.6" rx="4"/><text class="t5" x="711" y="5100"><tspan x="711">以教材中课文出现的基本人物、事件、时间和</tspan><tspan x="711" dy="15.3">提示中对学生应掌握知识的要求。</tspan></text></g>
<g id="k4"><rect class="r5" x="875" y="5151" width="77" height="25.3" rx="4"/><text class="t5" x="881" y="5168">[过程与方法]</text></g>
<g id="k5"><rect class="r5" x="705" y="5203" width="247" height="40.6" rx="4"/><text class="t5" x="711" y="5220"><tspan x="711">1、以多种角度来训练学生的历史唯物主义观</tspan><tspan x="711" dy="15.3">点、方法的初步运用能力;</tspan></text></g>
<g id="k6"><rect class="r5" x="705" y="5270" width="247" height="40.6" rx="4"/><text class="t5" x="711" y="5287"><tspan x="711">2、将阅读、听讲、识记三方面材料综合起来</tspan><tspan x="711" dy="15.3">的思维能力及独创、灵敏是思维品质的培养;</tspan></text></g>
<g id="k7"><rect class="r5" x="804" y="5338" width="148" height="25.3" rx="4"/><text class="t5" x="810" y="5355">3、口头表达能力的锻炼。</text></g>
<g id="k7a"><rect class="r5" x="669" y="5338" width="112" height="25.3" rx="4"/><text class="t5" x="675" y="5355">[情感态度与价值观]</text></g>
<g id="k8"><rect class="r5" x="754" y="5389" width="198" height="25.3" rx="4"/><text class="t5" x="760" y="5406">1、批判地继承秦始皇的道德、精神;</text></g>
<g id="k9"><rect class="r5" x="705" y="5441" width="247" height="40.6" rx="4"/><text class="t5" x="711" y="5458"><tspan x="711">2、了解国家兴衰、个人成就、个人成败的原</tspan><tspan x="711" dy="15.3">因。</tspan></text></g>
<g id="k9a"><rect class="r5" x="640" y="5448" width="42" height="25.3" rx="4"/><text class="t5" x="646" y="5465">[要求]</text></g>
<g id="k10"><rect class="r5" x="705" y="5509" width="247" height="40.6" rx="4"/><text class="t5" x="711" y="5526"><tspan x="711">1、开动脑筋，解放思想，大胆发表自己的看</tspan><tspan x="711" dy="15.3">法;</tspan></text></g>
<g id="k11"><rect class="r5" x="705" y="5576" width="247" height="40.6" rx="4"/><text class="t5" x="711" y="5593"><tspan x="711">2、观点鲜明，论据充分，史论结合，有理有</tspan><tspan x="711" dy="15.3">据;</tspan></text></g>
<g id="k12"><rect class="r5" x="705" y="6222" width="247" height="40.6" rx="4"/><text class="t5" x="711" y="6239"><tspan x="711">3、不同观点的交锋要以理服人，要讲究辩论</tspan><tspan x="711" dy="15.3">的技巧。</tspan></text></g>
<g id="l1"><rect class="r5" x="616" y="5643" width="66" height="25.3" rx="4"/><text class="t5" x="622" y="5660">[活动目的]</text></g>
<g id="l2"><rect class="r5" x="436" y="5696" width="246" height="71.2" rx="4"/><text class="t5" x="442" y="5713"><tspan x="442">秦始皇是我国历第一位皇帝，一生中做过很多</tspan><tspan x="442" dy="15.3">事情，对中国历史产生了重大影响。通过小品</tspan><tspan x="442" dy="15.3">、讨论的形式，进一步认识秦始皇的是非功过</tspan><tspan x="442" dy="15.3">。</tspan></text></g>
<g id="l3"><rect class="r5" x="436" y="5794" width="246" height="40.6" rx="4"/><text class="t5" x="442" y="5811"><tspan x="442">[难点]历史人物的作用与人民是创造历史的动</tspan><tspan x="442" dy="15.3">力相互关系的史观。</tspan></text></g>
<g id="l4"><rect class="r5" x="609" y="5860" width="73" height="25.3" rx="4"/><text class="t5" x="615" y="5877">[课时]1课时</text></g>
<g id="l5"><rect class="r5" x="605" y="5913" width="77" height="25.3" rx="4"/><text class="t5" x="611" y="5930">[课型]活动课</text></g>
<g id="l6"><rect class="r5" x="440" y="5965" width="242" height="25.3" rx="4"/><text class="t5" x="446" y="5982">[方式与方法]以讨论为中心的综合启发式教学</text></g>
<g id="l7"><rect class="r5" x="616" y="6017" width="66" height="25.3" rx="4"/><text class="t5" x="622" y="6034">[授课过程]</text></g>
<g id="l8"><rect class="r5" x="436" y="6068" width="246" height="55.9" rx="4"/><text class="t5" x="442" y="6085"><tspan x="442">唐朝大诗人李白曾写诗称赞秦始皇：秦王扫六</tspan><tspan x="442" dy="15.3">合，虎视何雄哉!挥剑击浮云，诸侯尽西来。</tspan><tspan x="442" dy="15.3">面对迎面而来的千古一帝，你有什么看法?</tspan></text></g>
<g id="l9"><rect class="r5" x="566" y="6257" width="116" height="25.3" rx="4"/><text class="t5" x="572" y="6274">一、找一找和议一议</text></g>
<g id="l10"><rect class="r5" x="612" y="6546" width="70" height="25.3" rx="4"/><text class="t5" x="618" y="6563">二、说一说</text></g>
<g id="l11"><rect class="r5" x="558" y="6815" width="124" height="25.3" rx="4"/><text class="t5" x="564" y="6832">三、写一写(课堂小结)</text></g>
<g id="s1"><rect class="r5" x="296" y="6151" width="247" height="117.1" rx="4"/><text class="t5" x="302" y="6168"><tspan x="302">1、课前，把全班同学按你们各自的意愿分</tspan><tspan x="302" dy="15.3">成政治家组和暴君组两大组，各大组再分成政</tspan><tspan x="302" dy="15.3">治、经济、思想文化等小组，分头搜集材料。</tspan><tspan x="302" dy="15.3">政治家组的同学，要想尽办法搜集有利于秦始</tspan><tspan x="302" dy="15.3">皇的材料，论证他是个杰出政治家;暴君组</tspan><tspan x="302" dy="15.3">的同学要搜集秦始皇的暴政材料，以论证秦</tspan><tspan x="302" dy="15.3">始皇是个暴君。</tspan></text></g>
<g id="s2"><rect class="r5" x="296" y="6294" width="247" height="71.2" rx="4"/><text class="t5" x="302" y="6311"><tspan x="302">2、各小组把找到的材料在组内互相交流，</tspan><tspan x="302" dy="15.3">并把材料制成小卡片，方便我们在讨论</tspan><tspan x="302" dy="15.3">时使用。推荐胆子大、口才好的三位同学</tspan><tspan x="302" dy="15.3">作为代表发表。</tspan></text></g>
<g id="s3"><rect class="r5" x="342" y="6391" width="247" height="40.6" rx="4"/><text class="t5" x="348" y="6408"><tspan x="348">准备好了吗?你想在同学们面前，施展你的</tspan><tspan x="348" dy="15.3">才华吗?来吧，参与我们的讨论课，来。</tspan></text></g>
<g id="s4"><rect class="r5" x="342" y="6458" width="247" height="86.5" rx="4"/><text class="t5" x="348" y="6475"><tspan x="348">1、创造环境气氛：请书法好的同学在黑板写</tspan><tspan x="348" dy="15.3">上秦始皇是杰出的政治家还是暴君，教室四周</tspan><tspan x="348" dy="15.3">贴几张同学们亲手画的秦始皇漫画像，桌椅摆</tspan><tspan x="348" dy="15.3">成两大组面对面坐的形式，讨论代表席摆上政</tspan><tspan x="348" dy="15.3">治家、暴君字样。</tspan></text></g>
<g id="s5"><rect class="r5" x="342" y="6571" width="247" height="71.2" rx="4"/><text class="t5" x="348" y="6588"><tspan x="348">2、讨论课：选举小主持人，由小主持人主持</tspan><tspan x="348" dy="15.3">讨论，大家讨论时要互相尊重，每位代表有三</tspan><tspan x="348" dy="15.3">分钟发言时间，同组其他同学可以补充，补充</tspan><tspan x="348" dy="15.3">时间不超过一分钟。</tspan></text></g>
<g id="s6"><rect class="r5" x="342" y="6669" width="247" height="71.2" rx="4"/><text class="t5" x="348" y="6686"><tspan x="348">3、最后有请老师或同学为讨论课做归纳总结</tspan><tspan x="348" dy="15.3">，为同学们指明客观认识历史人物的方法指</tspan><tspan x="348" dy="15.3">出大家在讨论过程中存在的问题，表扬敢于创</tspan><tspan x="348" dy="15.3">新，能提出不同于传统观点的论点的同学。</tspan></text></g>
<g id="s7"><rect class="r5" x="287" y="6767" width="247" height="40.6" rx="4"/><text class="t5" x="293" y="6784"><tspan x="293">1、通过讨论，你学到什么?你能正确</tspan><tspan x="293" dy="15.3">评价秦始皇吗?</tspan></text></g>
<g id="s8"><rect class="r5" x="287" y="6834" width="247" height="71.2" rx="4"/><text class="t5" x="293" y="6851"><tspan x="293">2、请你参照下表，把你对自己生理、</tspan><tspan x="293" dy="15.3">心理、思想等方面最感兴趣的话题，以</tspan><tspan x="293" dy="15.3">自述方式写一篇小文章，向同学介绍自</tspan><tspan x="293" dy="15.3">己。</tspan></text></g>

<!-- Branch 3 -->
<g id="b3"><rect x="1460" y="2204" width="195" height="34" rx="17" fill="#f5a45c"/><text class="mt" x="1557.5" y="2226.5" text-anchor="middle" fill="#fff">九年级上历史教案岳麓3</text></g>
<g id="m1"><rect class="r3" x="1679" y="1524" width="82" height="25.3" rx="4"/><text class="t3" x="1685" y="1541">【学习目标】</text></g>
<g id="m1a"><rect class="r3" x="1783" y="1452" width="248" height="40.6" rx="4"/><text class="t3" x="1789" y="1469"><tspan x="1789">1、了解当时各少数民族的社会生活和发展及</tspan><tspan x="1789" dy="15.3">与唐朝的关系。</tspan></text></g>
<g id="m1b"><rect class="r3" x="1783" y="1520" width="160" height="25.3" rx="4"/><text class="t3" x="1789" y="1537">2、分析唐朝民族政策的特点</text></g>
<g id="m1c"><rect class="r3" x="1783" y="1572" width="248" height="55.9" rx="4"/><text class="t3" x="1789" y="1589"><tspan x="1789">3、使学生认识到祖国的历史是各民族共同缔</tspan><tspan x="1789" dy="15.3">造和发展的;民族友好交流有利于各族的反展</tspan><tspan x="1789" dy="15.3">，这种关系是我国民族关系的主流。</tspan></text></g>
<g id="m2"><rect class="r3" x="1679" y="1654" width="58" height="25.3" rx="4"/><text class="t3" x="1685" y="1671">【重点】</text></g>
<g id="m2a"><rect class="r3" x="1760" y="1655" width="211" height="25.3" rx="4"/><text class="t3" x="1766" y="1672">吐蕃的发展及唐朝与吐蕃的友好关系。</text></g>
<g id="m3"><rect class="r3" x="1679" y="1706" width="58" height="25.3" rx="4"/><text class="t3" x="1685" y="1723">【难点】</text></g>
<g id="m3a"><rect class="r3" x="1760" y="1707" width="235" height="25.3" rx="4"/><text class="t3" x="1766" y="1724">唐朝对边疆各民族采取的比较开明的政策。</text></g>
<g id="m4"><rect class="r3" x="1679" y="1796" width="82" height="25.3" rx="4"/><text class="t3" x="1685" y="1813">【导入新课】</text></g>
<g id="m4a"><rect class="r3" x="1783" y="1758" width="248" height="101.8" rx="4"/><text class="t3" x="1789" y="1775"><tspan x="1789">历中原地区的许多统治者与边疆地区的少数民</tspan><tspan x="1789" dy="15.3">族矛盾重重。但在唐朝初期，却有一位皇帝深</tspan><tspan x="1789" dy="15.3">深地赢得了北方各民族地拥戴。在这位皇帝生</tspan><tspan x="1789" dy="15.3">前，各族首领尊奉他为各族首领一"天可汗"，</tspan><tspan x="1789" dy="15.3">这位皇帝是谁?他为什么获得各族的尊重?唐朝</tspan><tspan x="1789" dy="15.3">与哪些民族保持了怎样的关系呢?</tspan></text></g>
<g id="m5"><rect class="r3" x="1679" y="2219" width="83" height="25.3" rx="4"/><text class="t3" x="1685" y="2236">【学习过程】</text></g>
<g id="m5a"><rect class="r3" x="1783" y="1887" width="212" height="25.3" rx="4"/><text class="t3" x="1789" y="1904">仔细全面的阅读课本，认真完成学案。</text></g>
<g id="m5b"><rect class="r3" x="1783" y="1938" width="248" height="40.6" rx="4"/><text class="t3" x="1789" y="1955"><tspan x="1789">一、唐朝的哪两位皇帝设立了管辖西域的机构</tspan><tspan x="1789" dy="15.3">?</tspan></text></g>
<g id="m5c"><rect class="r3" x="1783" y="2106" width="141" height="25.3" rx="4"/><text class="t3" x="1789" y="2123">二、松赞干布和文成公主</text></g>
<g id="m5c1"><rect class="r3" x="1946" y="2006" width="212" height="25.3" rx="4"/><text class="t3" x="1952" y="2023">1、吐蕃(bo)人是今天哪个民族的祖先?</text></g>
<g id="m5c2"><rect class="r3" x="1946" y="2057" width="212" height="25.3" rx="4"/><text class="t3" x="1952" y="2074">2、当时的吐蕃(bo)人过着怎样的生活?</text></g>
<g id="m5c3"><rect class="r3" x="1947" y="2207" width="123" height="25.3" rx="4"/><text class="t3" x="1953" y="2224">3、唐朝与吐蕃的和亲</text></g>
<g id="m5c3a"><rect class="r3" x="2093" y="2111" width="247" height="40.6" rx="4"/><text class="t3" x="2099" y="2128"><tspan x="2099">(1)7世纪前期，吐蕃的赞普__________统</tspan><tspan x="2099" dy="15.3">一了青藏高原，定都________。</tspan></text></g>
<g id="m5c3b"><rect class="r3" x="2093" y="2178" width="183" height="25.3" rx="4"/><text class="t3" x="2099" y="2195">(2)唐太宗把_________嫁给他。</text></g>
<g id="m5c3c"><rect class="r3" x="2093" y="2229" width="120" height="25.3" rx="4"/><text class="t3" x="2099" y="2246">(3)此次和亲的意义：</text></g>
<g id="m5c3d"><rect class="r3" x="2093" y="2281" width="247" height="55.9" rx="4"/><text class="t3" x="2099" y="2298"><tspan x="2099">(4)8世纪初，唐朝又将__________嫁到吐蕃</tspan><tspan x="2099" dy="15.3">。吐蕃和唐朝已经"_______________"了</tspan><tspan x="2099" dy="15.3">。</tspan></text></g>
<g id="m5d"><rect class="r3" x="1783" y="2551" width="210" height="25.3" rx="4"/><text class="t3" x="1789" y="2568">三、唐与回纥(he)、靺鞨、南诏的关系</text></g>
<g id="m5d1"><rect class="r3" x="2015" y="2363" width="247" height="71.2" rx="4"/><text class="t3" x="2021" y="2380"><tspan x="2021">1、回纥是____________的祖先，8世纪中</tspan><tspan x="2021" dy="15.3">期，建立汗国，唐玄宗封其首领为_________</tspan><tspan x="2021" dy="15.3">__，双方关系友好。后回纥改名为________</tspan><tspan x="2021" dy="15.3">_。</tspan></text></g>
<g id="m5d2"><rect class="r3" x="2015" y="2461" width="247" height="86.5" rx="4"/><text class="t3" x="2021" y="2478"><tspan x="2021">2、靺鞨族的一支____________统一各部建</tspan><tspan x="2021" dy="15.3">立政权。唐玄宗封其首领为_____________</tspan><tspan x="2021" dy="15.3">，从此，粟末靺鞨政权以"_______"为号。有</tspan><tspan x="2021" dy="15.3">"____________"之称。与内地贸易往来频繁</tspan><tspan x="2021" dy="15.3">。</tspan></text></g>
<g id="m5d3"><rect class="r3" x="2015" y="2573" width="247" height="55.9" rx="4"/><text class="t3" x="2021" y="2590"><tspan x="2021">3、六诏居民是_______和______的祖先。</tspan><tspan x="2021" dy="15.3">在唐朝的支持下______统一了六诏。唐玄宗</tspan><tspan x="2021" dy="15.3">封其首领为_________精讲透析</tspan></text></g>
<g id="m5d4"><rect class="r3" x="2015" y="2656" width="110" height="25.3" rx="4"/><text class="t3" x="2021" y="2673">1、课本p22动脑筋</text></g>
<g id="m5d5"><rect class="r3" x="2015" y="2716" width="170" height="25.3" rx="4"/><text class="t3" x="2021" y="2733">2、认真识记本课的生字、词。</text></g>
<g id="m5d5a"><rect class="r3" x="2208" y="2709" width="247" height="40.6" rx="4"/><text class="t3" x="2214" y="2726"><tspan x="2214">吐蕃、松赞干布、逻些、回纥、回鹘、粟末靺</tspan><tspan x="2214" dy="15.3">鞨、南诏、彝族等。</tspan></text></g>
<g id="m6"><rect class="r3" x="1679" y="2784" width="83" height="25.3" rx="4"/><text class="t3" x="1685" y="2801">【思维拓展】</text></g>
<g id="m6a"><rect class="r3" x="1783" y="2776" width="247" height="40.6" rx="4"/><text class="t3" x="1789" y="2793"><tspan x="1789">用史实说明唐朝统治者是怎样灵活处理周边少</tspan><tspan x="1789" dy="15.3">数民族的关系的?并谈谈你的感想。</tspan></text></g>
<g id="m7"><rect class="r3" x="1679" y="2843" width="83" height="25.3" rx="4"/><text class="t3" x="1685" y="2860">【牛刀小试】</text></g>
<g id="m7a"><rect class="r3" x="1783" y="2843" width="188" height="25.3" rx="4"/><text class="t3" x="1789" y="2860">同步训练一选择题、二材料解析题</text></g>
<g id="m8"><rect class="r3" x="1679" y="2895" width="83" height="25.3" rx="4"/><text class="t3" x="1685" y="2912">【自我评价】</text></g>
<g id="m8a"><rect class="r3" x="1783" y="2895" width="116" height="25.3" rx="4"/><text class="t3" x="1789" y="2912">掌握的 很好 好 一般</text></g>

<!-- Branch 4 -->
<g id="b4"><rect x="1461" y="4026" width="195" height="34" rx="17" fill="#f5d142"/><text class="mt" x="1558.5" y="4048.5" text-anchor="middle" fill="#3a3000">九年级上历史教案岳麓4</text></g>
<g id="p1"><rect class="r4" x="1679" y="2948" width="116" height="25.3" rx="4"/><text class="t4" x="1685" y="2965">《宋代经济的发展》</text></g>
<g id="p2"><rect class="r4" x="1679" y="3082" width="93" height="25.3" rx="4"/><text class="t4" x="1685" y="3099">一、"课标"要求</text></g>
<g id="p2a"><rect class="r4" x="1793" y="2999" width="248" height="193.6" rx="4"/><text class="t4" x="1799" y="3016"><tspan x="1799">关于《宋代经济的发展》这一课，《初中历史</tspan><tspan x="1799" dy="15.3">课程标准》的要求是：知道宋代南方经济的发</tspan><tspan x="1799" dy="15.3">展，理解中国古代经济重心的南移。宋代是中</tspan><tspan x="1799" dy="15.3">国古代经济发展的重要阶段。农业技术更新，</tspan><tspan x="1799" dy="15.3">优良品种增多，农业产量大幅增加。纺织业、</tspan><tspan x="1799" dy="15.3">制瓷业均有重大发展，航海业、造船业成绩突</tspan><tspan x="1799" dy="15.3">出，海外贸易发达。南宋时期，南方地区进一</tspan><tspan x="1799" dy="15.3">步开发，促进江南地区成为中国经济中心之一</tspan><tspan x="1799" dy="15.3">，经济重心南移完成。这一时期，中国经济发</tspan><tspan x="1799" dy="15.3">展呈现出三个突出倾向:农业、手工业领域各</tspan><tspan x="1799" dy="15.3">项技术的创新与推广、海外贸易的繁荣与经济</tspan><tspan x="1799" dy="15.3">重心的南移。</tspan></text></g>
<g id="p3"><rect class="r4" x="1679" y="3278" width="140" height="25.3" rx="4"/><text class="t4" x="1685" y="3295">二、教材与教学内容分析</text></g>
<g id="p3a"><rect class="r4" x="1842" y="3218" width="247" height="147.7" rx="4"/><text class="t4" x="1848" y="3235"><tspan x="1848">本课是部编教材中国历史七年级下册第二单元</tspan><tspan x="1848" dy="15.3">的第9课。本课是有三个子目组成，分别是农</tspan><tspan x="1848" dy="15.3">业的发展、手工业的兴盛和商业贸易的繁荣，</tspan><tspan x="1848" dy="15.3">三部分内容之间联系密切，农业和手工业的发</tspan><tspan x="1848" dy="15.3">展推动商业繁荣局面的出现，两宋时期南方经</tspan><tspan x="1848" dy="15.3">济的全面发展直接推动了南宋时期经济重心南</tspan><tspan x="1848" dy="15.3">移的完成。所以，本课重点要解决的问题是为</tspan><tspan x="1848" dy="15.3">什么两宋时期经济的发展和变化最终促进了中</tspan><tspan x="1848" dy="15.3">国古代经济重心的南移。</tspan></text></g>
<g id="p4"><rect class="r4" x="1679" y="3414" width="83" height="25.3" rx="4"/><text class="t4" x="1685" y="3431">三、学情分析</text></g>
<g id="p4a"><rect class="r4" x="1784" y="3391" width="247" height="71.2" rx="4"/><text class="t4" x="1790" y="3408"><tspan x="1790">七年级学生，他们好奇心和求知欲强，思维活</tspan><tspan x="1790" dy="15.3">跃，所以要引导学生观看视频、图片，分析资</tspan><tspan x="1790" dy="15.3">料，培养他们这种获得信息的能力。引导学生</tspan><tspan x="1790" dy="15.3">阅读课文，合作学习。</tspan></text></g>
<g id="p5"><rect class="r4" x="1679" y="3563" width="118" height="25.3" rx="4"/><text class="t4" x="1685" y="3580">四、教学目标的设定</text></g>
<g id="p5a"><rect class="r4" x="1819" y="3489" width="247" height="40.6" rx="4"/><text class="t4" x="1825" y="3506"><tspan x="1825">1、了解宋代农业、手工业发展和商业繁荣的</tspan><tspan x="1825" dy="15.3">表现。</tspan></text></g>
<g id="p5b"><rect class="r4" x="1819" y="3556" width="247" height="40.6" rx="4"/><text class="t4" x="1825" y="3573"><tspan x="1825">2、思考宋代经济发展与经济重心南移之间的</tspan><tspan x="1825" dy="15.3">关系。</tspan></text></g>
<g id="p5c"><rect class="r4" x="1819" y="3623" width="247" height="40.6" rx="4"/><text class="t4" x="1825" y="3640"><tspan x="1825">3、掌握经济重心南移的过程、原因和现实价</tspan><tspan x="1825" dy="15.3">值。</tspan></text></g>
<g id="p5d"><rect class="r4" x="2088" y="3623" width="247" height="40.6" rx="4"/><text class="t4" x="2094" y="3640"><tspan x="2094">【设计意图】教学目标具体可行，旨在符合《</tspan><tspan x="2094" dy="15.3">课标》三维目标的要求。</tspan></text></g>
<g id="p6"><rect class="r4" x="1679" y="3814" width="106" height="25.3" rx="4"/><text class="t4" x="1685" y="3831">五、教学策略设计</text></g>
<g id="p6a"><rect class="r4" x="1806" y="3691" width="248" height="71.2" rx="4"/><text class="t4" x="1812" y="3708"><tspan x="1812">教学重点：商业贸易的繁荣和经济重心南移(</tspan><tspan x="1812" dy="15.3">宋代的商业贸易呈现出前所未有的繁荣，并且</tspan><tspan x="1812" dy="15.3">本子目涉及"市舶司"、"蕃学"等专有名词。因</tspan><tspan x="1812" dy="15.3">此将其作为本课重点)</tspan></text></g>
<g id="p6b"><rect class="r4" x="1806" y="3787" width="248" height="86.5" rx="4"/><text class="t4" x="1812" y="3804"><tspan x="1812">教学难点：经济重心南移(这既是宋代经济发</tspan><tspan x="1812" dy="15.3">展产生的影响，也是我国古代经济格局的一次</tspan><tspan x="1812" dy="15.3">重大变化，对后世影响深远，对今天我国的经</tspan><tspan x="1812" dy="15.3">济建设也有重要的借鉴意义。因此将其作为本</tspan><tspan x="1812" dy="15.3">课难点)</tspan></text></g>
<g id="p6c"><rect class="r4" x="1806" y="3900" width="248" height="55.9" rx="4"/><text class="t4" x="1812" y="3917"><tspan x="1812">教法设计：通过自主阅读、问题思考，小组讨</tspan><tspan x="1812" dy="15.3">论等方式分析图片，研读材料获取知识，分析</tspan><tspan x="1812" dy="15.3">问题并解决问题。教师给以必要的讲授。</tspan></text></g>
<g id="p7"><rect class="r4" x="1679" y="4540" width="165" height="25.3" rx="4"/><text class="t4" x="1685" y="4557">六、课堂教学过程设计与实施</text></g>
<g id="q1"><rect class="r4" x="1865" y="3981" width="247" height="117.1" rx="4"/><text class="t4" x="1871" y="3998"><tspan x="1871">导入：名画引领，再现历史。多媒体展示《清</tspan><tspan x="1871" dy="15.3">明上河图》。提问:从中你能看到哪些不同身</tspan><tspan x="1871" dy="15.3">份的人?他们正在做什么?你可以买到哪些物品</tspan><tspan x="1871" dy="15.3">呢?你对这幅画的第一印象是什么?这一时期的</tspan><tspan x="1871" dy="15.3">农业、手工业又有什么新发展?又将产生怎么</tspan><tspan x="1871" dy="15.3">样的影响?我们今天来一起学习第9课《宋代</tspan><tspan x="1871" dy="15.3">经济的发展</tspan></text></g>
<g id="q2"><rect class="r4" x="1865" y="4140" width="247" height="55.9" rx="4"/><text class="t4" x="1871" y="4157"><tspan x="1871">【设计意图】视频导入，激发兴趣。引导学生</tspan><tspan x="1871" dy="15.3">通过观看视频寻找信息，感受宋代都市的繁华</tspan><tspan x="1871" dy="15.3">。</tspan></text></g>
<g id="q2a"><rect class="r4" x="2135" y="4126" width="81" height="25.3" rx="4"/><text class="t4" x="2141" y="4143">㈠农业的发展</text></g>
<g id="q2b"><rect class="r4" x="2135" y="4177" width="246" height="40.6" rx="4"/><text class="t4" x="2141" y="4194"><tspan x="2141">1、自主阅读第一子目，圈点批注宋代农业发</tspan><tspan x="2141" dy="15.3">展的表现，并展示学习的成果。</tspan></text></g>
<g id="q3"><rect class="r4" x="1865" y="4253" width="247" height="40.6" rx="4"/><text class="t4" x="1871" y="4270"><tspan x="1871">【设计意图】培养学生通过阅读提取有效历史</tspan><tspan x="1871" dy="15.3">信息的能力。</tspan></text></g>
<g id="q3a"><rect class="r4" x="2135" y="4245" width="246" height="55.9" rx="4"/><text class="t4" x="2141" y="4262"><tspan x="2141">2、图片再现。通过识读《耕获图》和《秧马</tspan><tspan x="2141" dy="15.3">》，结合相关事实，了解宋代农业在技术和工</tspan><tspan x="2141" dy="15.3">具方面取得的进展。</tspan></text></g>
<g id="q4"><rect class="r4" x="1865" y="4354" width="247" height="40.6" rx="4"/><text class="t4" x="1871" y="4371"><tspan x="1871">【设计意图】通过图片识读，使学生直观的了</tspan><tspan x="1871" dy="15.3">解历史知识，激发兴趣又增强历史体验。</tspan></text></g>
<g id="q4a"><rect class="r4" x="2135" y="4327" width="93" height="25.3" rx="4"/><text class="t4" x="2141" y="4344">㈡手工业的兴盛</text></g>
<g id="q4b"><rect class="r4" x="2135" y="4380" width="246" height="55.9" rx="4"/><text class="t4" x="2141" y="4397"><tspan x="2141">1、自主阅读教材第二子目，了解宋代纺织业</tspan><tspan x="2141" dy="15.3">、制瓷业、造船业取得的成就，并展示学习成</tspan><tspan x="2141" dy="15.3">果。</tspan></text></g>
<g id="q5"><rect class="r4" x="1865" y="4552" width="247" height="40.6" rx="4"/><text class="t4" x="1871" y="4569"><tspan x="1871">【设计意图】培养学生通过阅读提取有效历史</tspan><tspan x="1871" dy="15.3">信息的能力。</tspan></text></g>
<g id="q5a"><rect class="r4" x="2135" y="4463" width="246" height="71.2" rx="4"/><text class="t4" x="2141" y="4480"><tspan x="2141">2、图片再现。展示宋代丝织业的图片，瓷器</tspan><tspan x="2141" dy="15.3">的图片以及阅读课本第43页相关史实。了解</tspan><tspan x="2141" dy="15.3">宋代无论是纺织业，制瓷业还是造船业，都处</tspan><tspan x="2141" dy="15.3">于世界水平。</tspan></text></g>
<g id="q5a1"><rect class="r4" x="2403" y="4486" width="105" height="25.3" rx="4"/><text class="t4" x="2409" y="4503">㈢商业贸易的繁荣</text></g>
<g id="q5b"><rect class="r4" x="2135" y="4560" width="246" height="40.6" rx="4"/><text class="t4" x="2141" y="4577"><tspan x="2141">1、自主阅读第三子目，了解宋代商业贸易繁</tspan><tspan x="2141" dy="15.3">荣的表现，并展示学习成果。</tspan></text></g>
<g id="q5c"><rect class="r4" x="2135" y="4626" width="246" height="40.6" rx="4"/><text class="t4" x="2141" y="4643"><tspan x="2141">2、对比《唐长安城平面图》与《北宋东京城</tspan><tspan x="2141" dy="15.3">平面图》，体会宋代都市商业新的突破。</tspan></text></g>
<g id="q6"><rect class="r4" x="1865" y="4694" width="247" height="40.6" rx="4"/><text class="t4" x="1871" y="4711"><tspan x="1871">【设计意图】通过读图，加深对宋代都市商业</tspan><tspan x="1871" dy="15.3">贸易新突破的理解。</tspan></text></g>
<g id="q6a"><rect class="r4" x="2135" y="4694" width="246" height="40.6" rx="4"/><text class="t4" x="2141" y="4711"><tspan x="2141">3、宋代海外贸易超过前代。小组讨论：为什</tspan><tspan x="2141" dy="15.3">么宋代海外贸易如此兴盛?</tspan></text></g>
<g id="q7"><rect class="r4" x="1865" y="4761" width="247" height="40.6" rx="4"/><text class="t4" x="1871" y="4778"><tspan x="1871">【设计意图】使学生们多角度分析问题，培养</tspan><tspan x="1871" dy="15.3">历史思维能力。</tspan></text></g>
<g id="q7a"><rect class="r4" x="2135" y="4761" width="246" height="40.6" rx="4"/><text class="t4" x="2141" y="4778"><tspan x="2141">4、探讨宋朝出现纸币的原因及它的作用，今</tspan><tspan x="2141" dy="15.3">天除了纸币外，还可以通过什么方式支付?</tspan></text></g>
<g id="q8"><rect class="r4" x="1865" y="4836" width="247" height="40.6" rx="4"/><text class="t4" x="1871" y="4853"><tspan x="1871">【设计意图】培养历史思维能力，同时注重历</tspan><tspan x="1871" dy="15.3">史与现实的联系。</tspan></text></g>
<g id="q8a"><rect class="r4" x="2135" y="4829" width="246" height="55.9" rx="4"/><text class="t4" x="2141" y="4846"><tspan x="2141">5、出示《宋代经济分布图》，以及两宋时期</tspan><tspan x="2141" dy="15.3">国家赋税收入南北比例变化表，使学生明确经</tspan><tspan x="2141" dy="15.3">济重心南移。</tspan></text></g>
<g id="q9"><rect class="r4" x="1865" y="4911" width="247" height="40.6" rx="4"/><text class="t4" x="1871" y="4928"><tspan x="1871">【设计意图】结合地图，图表使学生能对经济</tspan><tspan x="1871" dy="15.3">重心南移这一概念有更直观，深切的体会。</tspan></text></g>
<g id="q9a"><rect class="r4" x="2135" y="4919" width="229" height="25.3" rx="4"/><text class="t4" x="2141" y="4936">6、研读材料，分析经济重心南移的原因。</text></g>
<g id="q10"><rect class="r4" x="1865" y="4978" width="247" height="40.6" rx="4"/><text class="t4" x="1871" y="4995"><tspan x="1871">【设计意图】通过研读分析材料，培养学生的</tspan><tspan x="1871" dy="15.3">史料实证意识。</tspan></text></g>
<g id="q10a"><rect class="r4" x="2135" y="4978" width="246" height="40.6" rx="4"/><text class="t4" x="2141" y="4995"><tspan x="2141">7、这节课的学习，对我国经济建设有何启示</tspan><tspan x="2141" dy="15.3">?</tspan></text></g>
<g id="q11"><rect class="r4" x="1865" y="5045" width="247" height="40.6" rx="4"/><text class="t4" x="1871" y="5062"><tspan x="1871">【设计意图】学以致用，培养学生的知识迁移</tspan><tspan x="1871" dy="15.3">能力。</tspan></text></g>
<g id="p8"><rect class="r4" x="1679" y="5114" width="118" height="25.3" rx="4"/><text class="t4" x="1685" y="5131">七、教学反思及改进</text></g>

<!-- Branch 6 -->
<g id="b6"><rect x="1461" y="5394" width="262" height="36" rx="18" fill="#4ecf8c"/><text class="mt" x="1592" y="5418" text-anchor="middle" fill="#123a24">九年级上历史教案岳麓相关文章：</text></g>
<g id="r1"><rect class="r6" x="1747" y="5165" width="188" height="26" rx="4"/><text class="t6" x="1753" y="5182.5">★ 岳麓版九年级上册历史教案范文</text></g>
<g id="r2"><rect class="r6" x="1747" y="5217" width="188" height="26" rx="4"/><text class="t6" x="1753" y="5234.5">★ 岳麓版九年级下册历史教案范文</text></g>
<g id="r3"><rect class="r6" x="1747" y="5269.5" width="194" height="26" rx="4"/><text class="t6" x="1753" y="5287">★ 岳麓历史中考第一轮复习教案5篇</text></g>
<g id="r4"><rect class="r6" x="1747" y="5322" width="182" height="26" rx="4"/><text class="t6" x="1753" y="5339.5">★ 高一历史个人教学计划岳麓5篇</text></g>
<g id="r5"><rect class="r6" x="1747" y="5373" width="201" height="26" rx="4"/><text class="t6" x="1753" y="5390.5">★ 岳麓版9年级历史下册教学总结5篇</text></g>
<g id="r6"><rect class="r6" x="1747" y="5425.5" width="182" height="26" rx="4"/><text class="t6" x="1753" y="5443">★ 岳麓版八年级上册历史教案5篇</text></g>
<g id="r7"><rect class="r6" x="1747" y="5478" width="180" height="26" rx="4"/><text class="t6" x="1753" y="5495.5">★ 2021岳麓版高一历史教案范文</text></g>
<g id="r8"><rect class="r6" x="1747" y="5530" width="182" height="26" rx="4"/><text class="t6" x="1753" y="5547.5">★ 岳麓版高中历史教案必修2范文</text></g>
<g id="r9"><rect class="r6" x="1747" y="5582" width="204" height="26" rx="4"/><text class="t6" x="1753" y="5599.5">★ 2021岳麓版高二历史教案最新模板</text></g>
<g id="r10"><rect class="r6" x="1747" y="5634" width="182" height="26" rx="4"/><text class="t6" x="1753" y="5651.5">★ 岳麓版高一第8课历史教案范文</text></g>
</g>
</svg>
